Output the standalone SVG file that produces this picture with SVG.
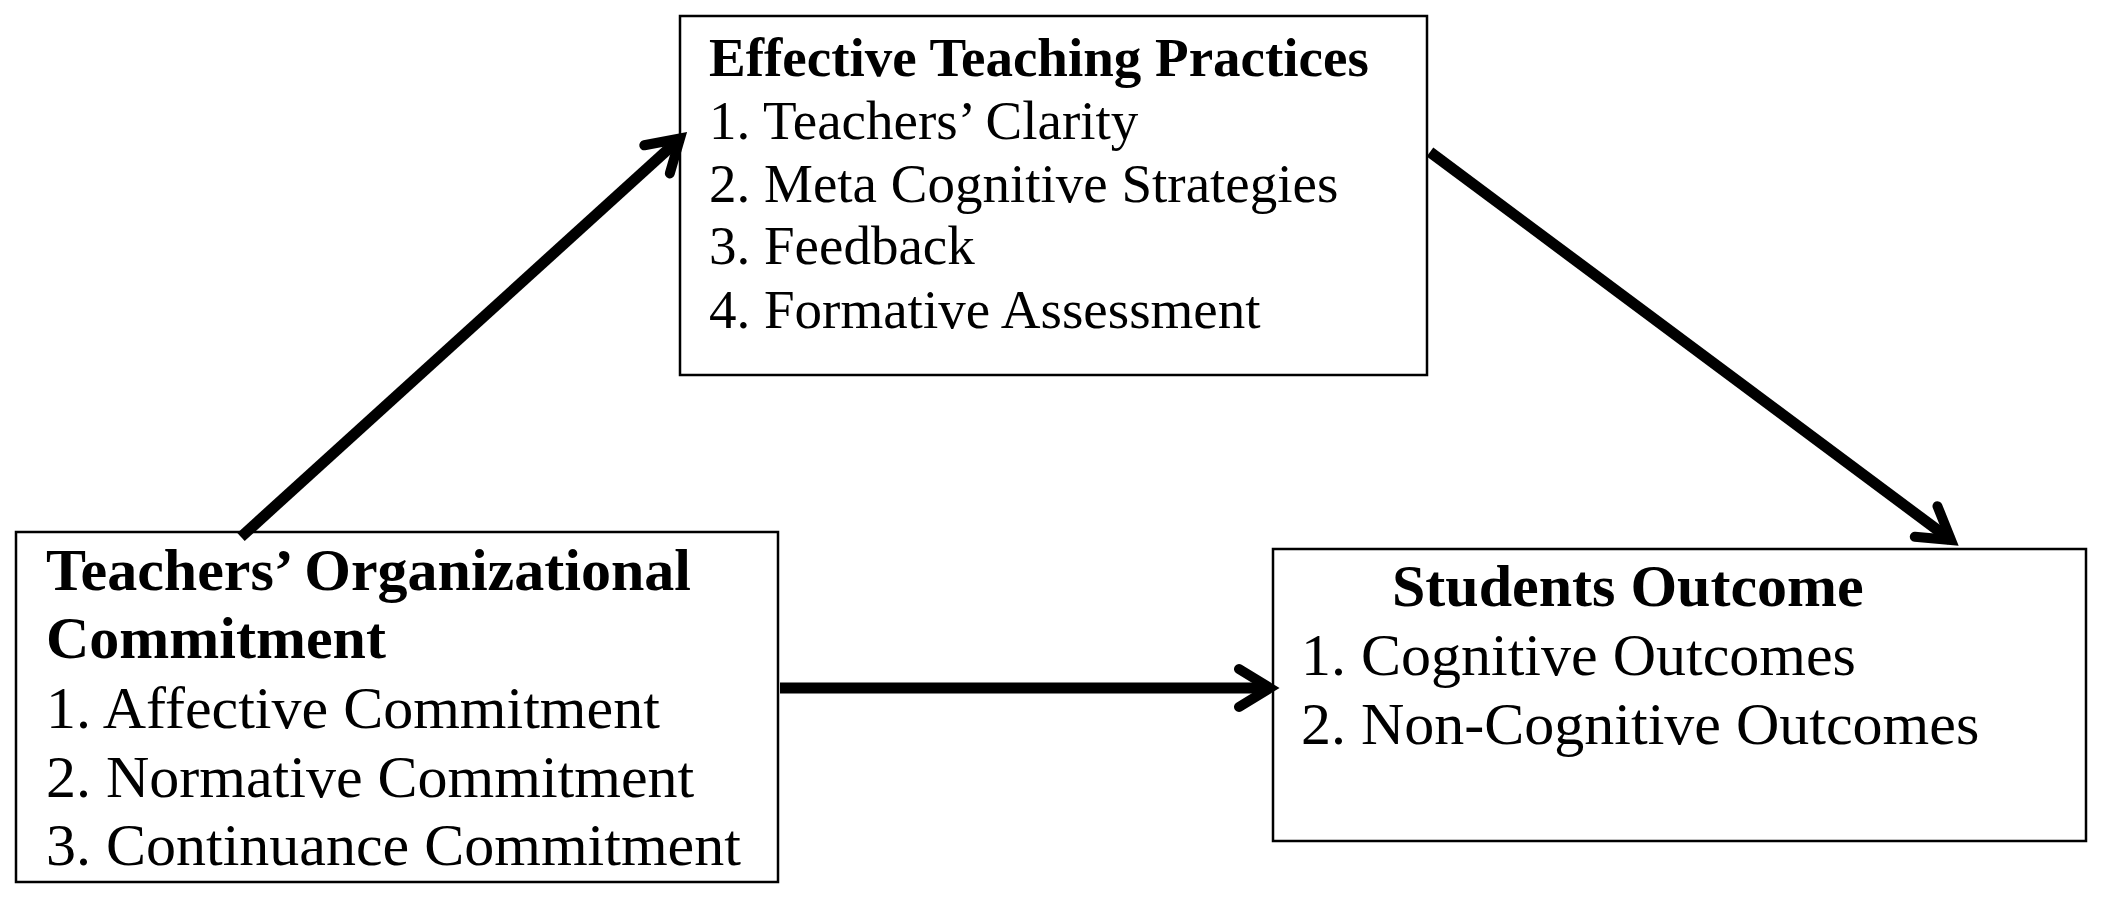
<svg xmlns="http://www.w3.org/2000/svg" width="2102" height="897" viewBox="0 0 2102 897">
<style>
.box{fill:#fff;stroke:#000;stroke-width:2.5}
.t{font-family:"Liberation Serif","Times New Roman",serif;fill:#000}
.b{font-weight:bold}
.s60{font-size:60px}
.s55{font-size:55px}
.shaft{stroke:#000;stroke-width:11;fill:none}
</style>
<defs>
<marker id="ah" markerUnits="userSpaceOnUse" viewBox="-40 -30 50 60" refX="0" refY="0" markerWidth="50" markerHeight="60" orient="auto" overflow="visible">
<path d="M -31 -19 L 0 0 L -31 19" fill="none" stroke="#000" stroke-width="10" stroke-linecap="round" stroke-linejoin="miter" stroke-miterlimit="10"/>
</marker>
</defs>
<rect width="2102" height="897" fill="#fff"/>
<g id="node-commitment">
<rect class="box" x="16" y="532" width="762" height="350"/>
<text class="t b s60" x="46" y="590">Teachers’ Organizational</text>
<text class="t b s60" x="46" y="658">Commitment</text>
<text class="t s60" x="46" y="728">1. Affective Commitment</text>
<text class="t s60" x="46" y="797">2. Normative Commitment</text>
<text class="t s60" x="46" y="865">3. Continuance Commitment</text>
</g>
<g id="node-practices">
<rect class="box" x="680" y="16" width="747" height="359"/>
<text class="t b s55" x="709" y="76">Effective Teaching Practices</text>
<text class="t s55" x="709" y="139">1. Teachers’ Clarity</text>
<text class="t s55" x="709" y="202">2. Meta Cognitive Strategies</text>
<text class="t s55" x="709" y="264">3. Feedback</text>
<text class="t s55" x="709" y="328">4. Formative Assessment</text>
</g>
<g id="node-outcome">
<rect class="box" x="1273" y="549" width="813" height="292"/>
<text class="t b s60" x="1392" y="606">Students Outcome</text>
<text class="t s60" x="1301" y="675">1. Cognitive Outcomes</text>
<text class="t s60" x="1301" y="744">2. Non-Cognitive Outcomes</text>
</g>
<g id="connectors">
<line class="shaft" x1="241" y1="537" x2="680" y2="138.5" marker-end="url(#ah)"/>
<line class="shaft" x1="1430" y1="152" x2="1951" y2="540" marker-end="url(#ah)"/>
<line class="shaft" x1="780" y1="688" x2="1270" y2="688" marker-end="url(#ah)"/>
</g>
</svg>
